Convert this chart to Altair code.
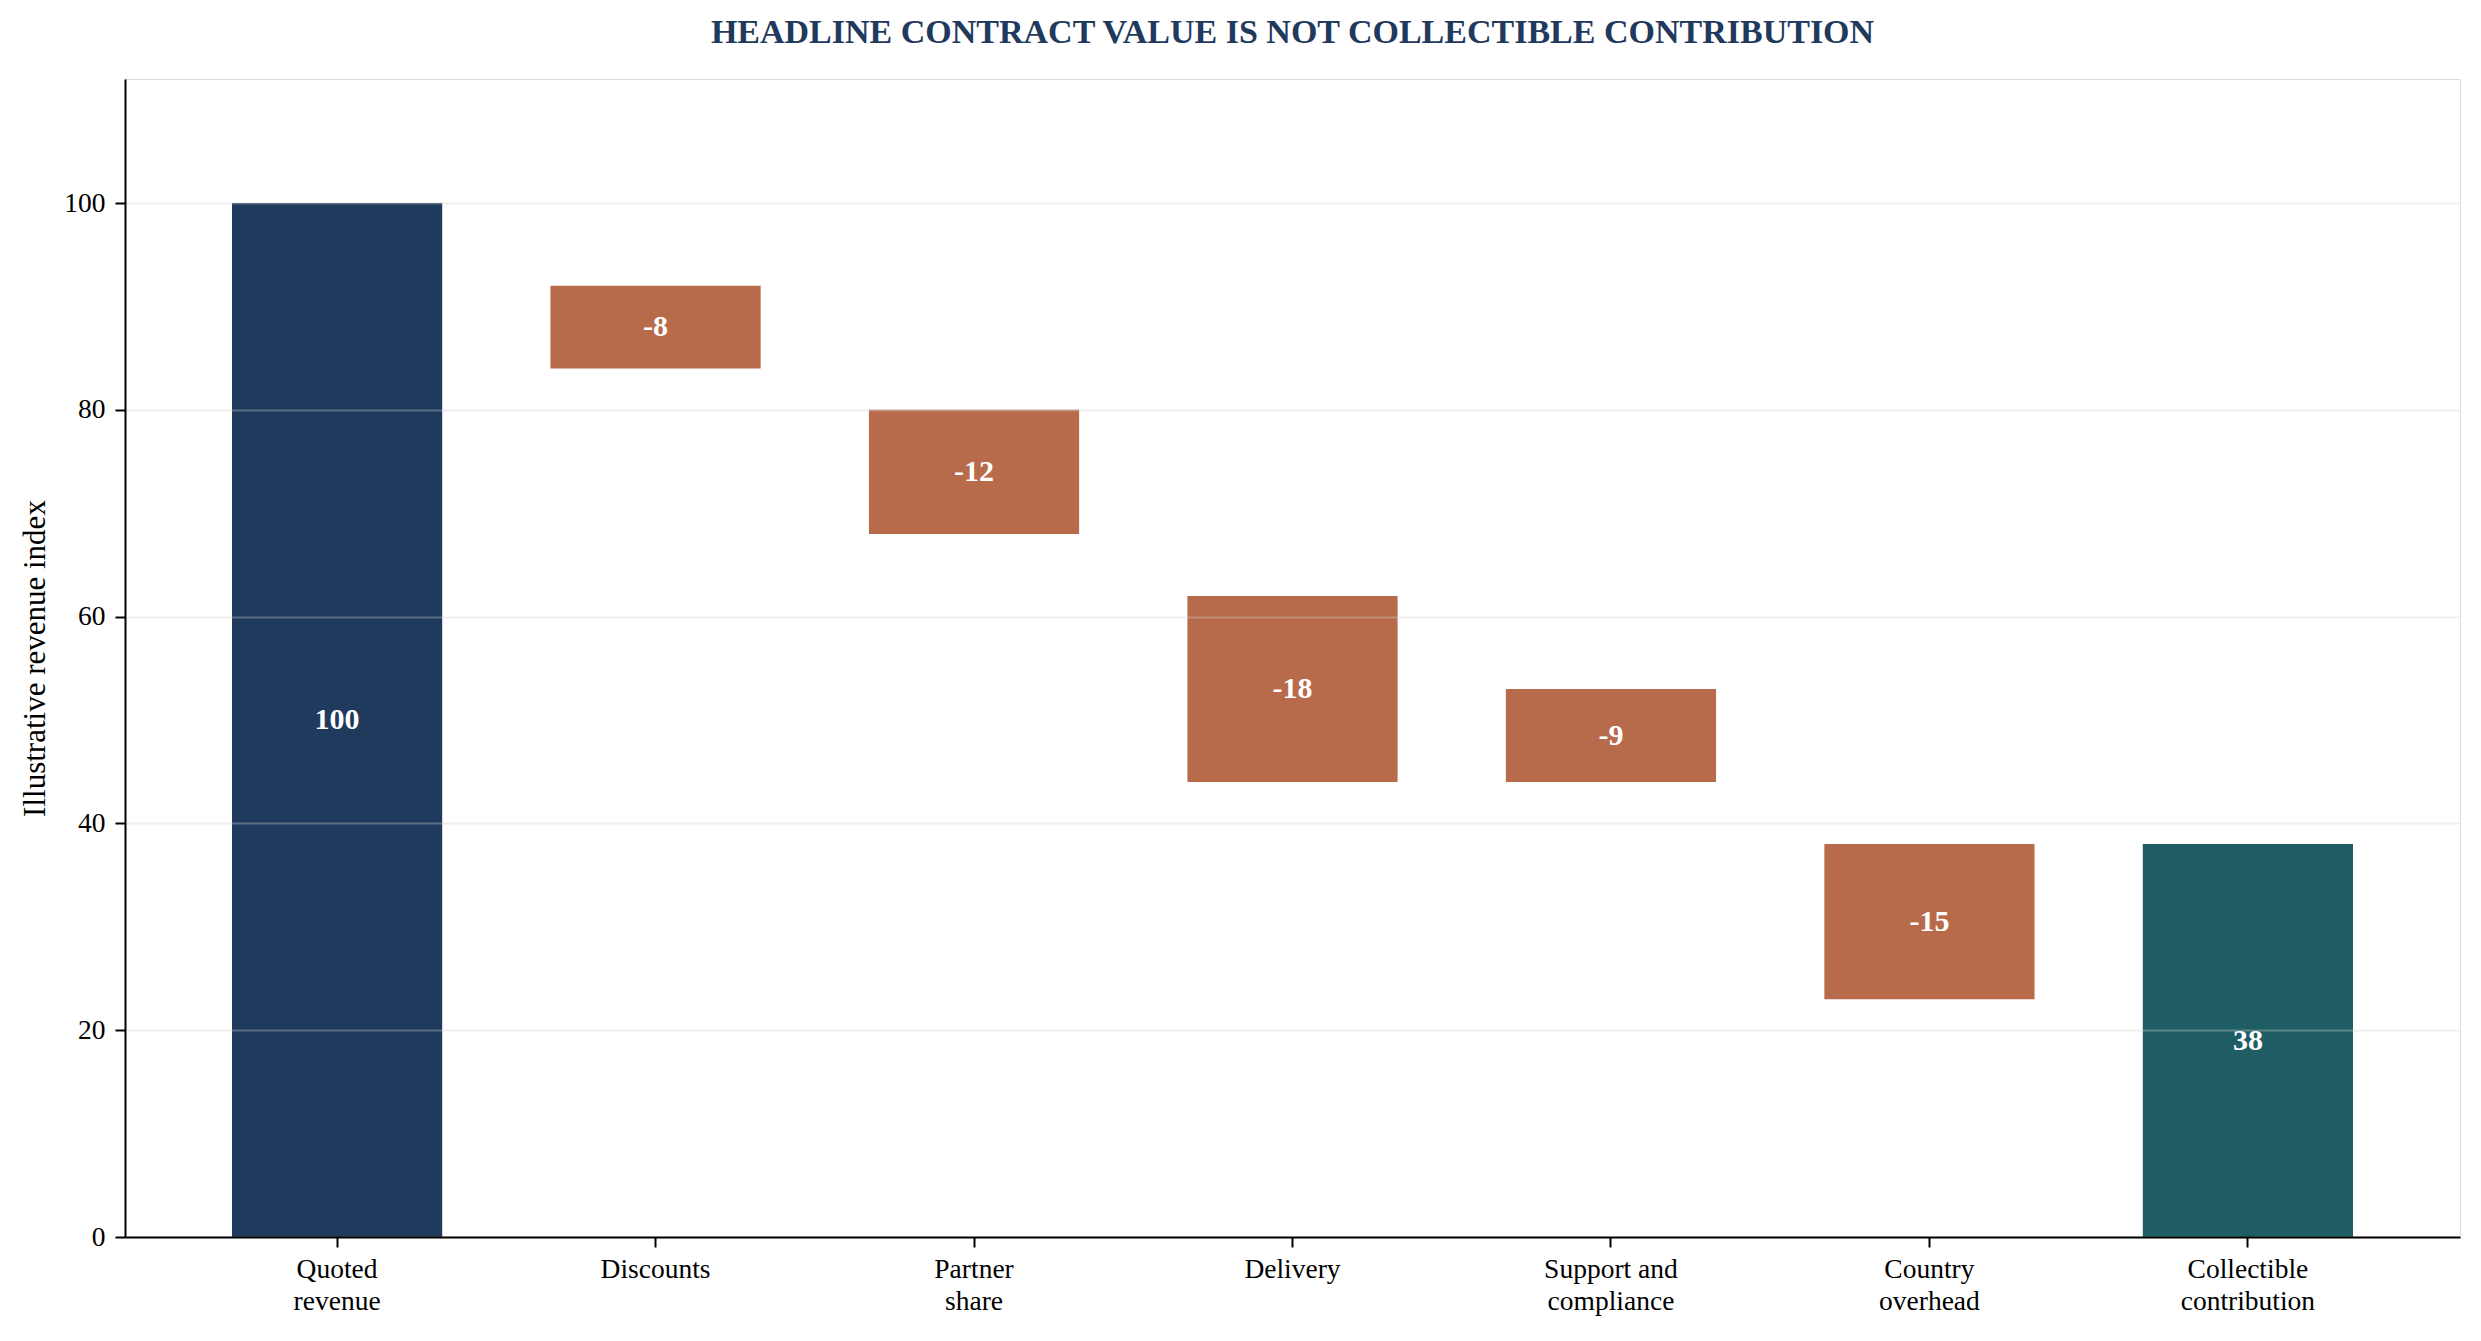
import altair as alt
import pandas as pd

categories = ["Quoted\nrevenue", "Discounts", "Partner\nshare", "Delivery",
              "Support and\ncompliance", "Country\noverhead", "Collectible\ncontribution"]
values = [100, -8, -12, -18, -9, -15, 38]
kinds = ["start", "delta", "delta", "delta", "delta", "delta", "end"]

rows = []
cum = 0
for cat, v, k in zip(categories, values, kinds):
    if k == "start":
        lo, hi = 0, v
        cum = v
    elif k == "delta":
        cum += v
        hi, lo = cum, cum + v
    else:
        lo, hi = 0, v
    rows.append({"cat": cat, "lo": lo, "hi": hi, "mid": (lo + hi) / 2,
                 "kind": k, "txt": str(v)})
df = pd.DataFrame(rows)

FONT = "Liberation Serif"

x = alt.X("cat:N", sort=categories,
          scale=alt.Scale(paddingInner=0.34, paddingOuter=0.336),
          axis=alt.Axis(title=None, labelAngle=0, labelExpr="split(datum.label, '\\n')",
                        labelFontSize=27.5, labelFont=FONT, labelColor="black",
                        labelPadding=8, labelLineHeight=32,
                        tickSize=10, tickWidth=2, tickColor="black",
                        domainColor="black", domainWidth=2, grid=False, zindex=1))

bars = alt.Chart(df).mark_bar().encode(
    x=x,
    y=alt.Y("lo:Q", scale=alt.Scale(domain=[0, 112], nice=False),
            axis=alt.Axis(title="Illustrative revenue index", values=[0, 20, 40, 60, 80, 100],
                          titleFont=FONT, titleFontSize=31, titleFontWeight="normal",
                          titleColor="black", titlePadding=12,
                          labelFont=FONT, labelFontSize=27.5, labelColor="black",
                          labelPadding=10, tickSize=10, tickWidth=2, tickColor="black",
                          domainColor="black", domainWidth=2,
                          grid=True, gridColor="#d0d0d0", gridOpacity=0.35, gridWidth=2,
                          zindex=1)),
    y2="hi:Q",
    color=alt.Color("kind:N", scale=alt.Scale(domain=["start", "delta", "end"],
                                             range=["#1f3a5d", "#b86b4b", "#1f5d64"]),
                    legend=None),
)

labels = alt.Chart(df).mark_text(font=FONT, fontSize=30, fontWeight="bold",
                                 color="white", baseline="middle", align="center").encode(
    x=alt.X("cat:N", sort=categories),
    y=alt.Y("mid:Q"),
    text="txt:N",
)

chart = alt.layer(bars, labels).properties(
    width=2335, height=1158,
    title=alt.TitleParams("HEADLINE CONTRACT VALUE IS NOT COLLECTIBLE CONTRIBUTION",
                          font=FONT, fontSize=34, fontWeight="bold", color="#1f3a5d",
                          anchor="middle", offset=29),
    autosize=alt.AutoSizeParams(type="none"),
    padding={"left": 117, "top": 71, "right": 13, "bottom": 90},
).configure_view(stroke=None).configure(background="white")

chart.save("out.html", embed_options={"renderer": "svg", "actions": False})
